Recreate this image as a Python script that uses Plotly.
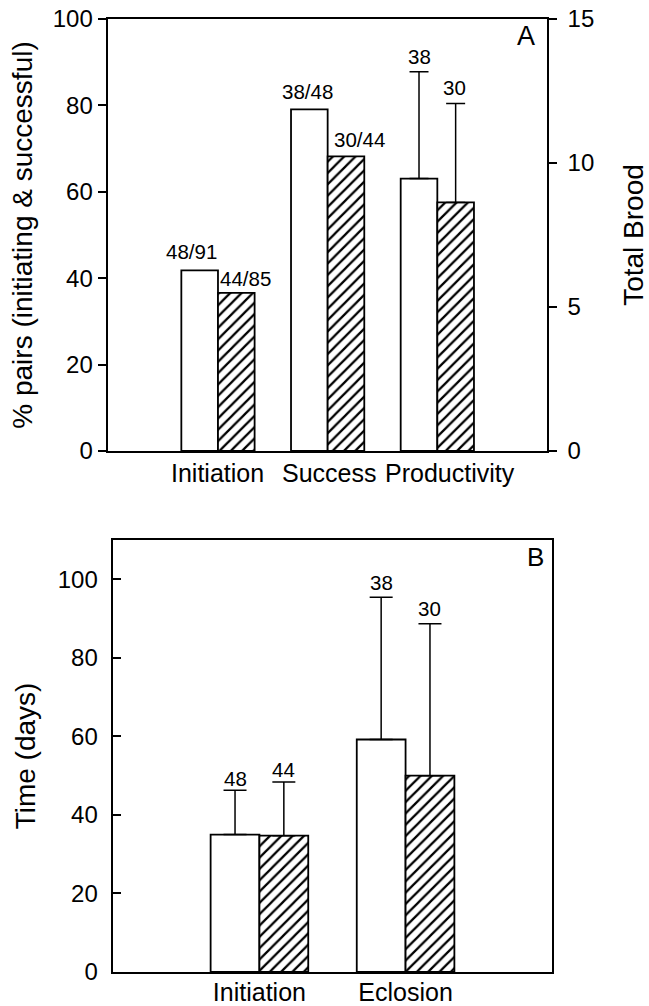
import plotly.graph_objects as go

# ---------------- data ----------------
cats_A = ["Initiation", "Success", "Productivity"]
cat_shift_A = [0, 1, 13]         # px nudge of category labels (as in the original)
pct_open = [41.8, 79.1]          # % pairs, open bars (Initiation, Success)
pct_hatch = [36.6, 68.2]         # % pairs, hatched bars
brood_open = [9.46]              # Total brood, open bar (Productivity)
brood_hatch = [8.63]             # Total brood, hatched bar
brood_open_err = [3.71]          # upper error
brood_hatch_err = [3.44]
labels_A_open = ["48/91", "38/48", "38"]
labels_A_hatch = ["44/85", "30/44", "30"]

cats_B = ["Initiation", "Eclosion"]
time_open = [35.0, 59.2]
time_hatch = [34.7, 50.0]
time_open_err = [11.3, 36.2]
time_hatch_err = [13.7, 38.7]
labels_B_open = ["48", "38"]
labels_B_hatch = ["44", "30"]

FONT = "Liberation Sans"
W = 0.334
LW = 1.8
ELW = 1.5

hatch = dict(shape="/", fgcolor="black", bgcolor="white", size=8, solidity=0.28)

fig = go.Figure()

# panel A – percent bars
fig.add_trace(go.Bar(x=cats_A[:2], y=pct_open, offset=-W, width=W,
                     marker=dict(color="white", line=dict(color="black", width=LW)),
                     xaxis="x", yaxis="y", showlegend=False))
fig.add_trace(go.Bar(x=cats_A[:2], y=pct_hatch, offset=0, width=W,
                     marker=dict(color="white", pattern=hatch, line=dict(color="black", width=LW)),
                     xaxis="x", yaxis="y", showlegend=False))
# panel A – productivity on right axis
errA = dict(type="data", symmetric=False, color="black", thickness=ELW, width=9.5)
fig.add_trace(go.Bar(x=cats_A[2:], y=brood_open, offset=-W, width=W,
                     marker=dict(color="white", line=dict(color="black", width=LW)),
                     error_y=dict(errA, array=brood_open_err, arrayminus=[0]),
                     xaxis="x", yaxis="y2", showlegend=False))
fig.add_trace(go.Bar(x=cats_A[2:], y=brood_hatch, offset=0, width=W,
                     marker=dict(color="white", pattern=hatch, line=dict(color="black", width=LW)),
                     error_y=dict(errA, array=brood_hatch_err, arrayminus=[0]),
                     xaxis="x", yaxis="y2", showlegend=False))

# panel B
errB = dict(type="data", symmetric=False, color="black", thickness=ELW, width=11.5)
fig.add_trace(go.Bar(x=cats_B, y=time_open, offset=-W, width=W,
                     marker=dict(color="white", line=dict(color="black", width=LW)),
                     error_y=dict(errB, array=time_open_err, arrayminus=[0, 0]),
                     xaxis="x2", yaxis="y3", showlegend=False))
fig.add_trace(go.Bar(x=cats_B, y=time_hatch, offset=0, width=W,
                     marker=dict(color="white", pattern=hatch, line=dict(color="black", width=LW)),
                     error_y=dict(errB, array=time_hatch_err, arrayminus=[0, 0]),
                     xaxis="x2", yaxis="y3", showlegend=False))

ann = []
lab_font = dict(family=FONT, size=20.5, color="black")
# panel A labels
topsA_open = [pct_open[0], pct_open[1], brood_open[0] + brood_open_err[0]]
topsA_hatch = [pct_hatch[0], pct_hatch[1], brood_hatch[0] + brood_hatch_err[0]]
shiftsA_open = [(-8, 5), (-1.5, 4), (0, 2)]
shiftsA_hatch = [(9, 1), (14, 3), (-1, 2)]
for i in range(3):
    yr = "y" if i < 2 else "y2"
    ann.append(dict(x=i - W / 2, y=topsA_open[i], xref="x", yref=yr, text=labels_A_open[i],
                    showarrow=False, yanchor="bottom", xanchor="center",
                    xshift=shiftsA_open[i][0], yshift=shiftsA_open[i][1], font=lab_font))
    ann.append(dict(x=i + W / 2, y=topsA_hatch[i], xref="x", yref=yr, text=labels_A_hatch[i],
                    showarrow=False, yanchor="bottom", xanchor="center",
                    xshift=shiftsA_hatch[i][0], yshift=shiftsA_hatch[i][1], font=lab_font))
# panel A category labels
for i, c in enumerate(cats_A):
    ann.append(dict(x=c, y=0, xref="x", yref="y domain", text=c, showarrow=False,
                    xanchor="center", yanchor="top", xshift=cat_shift_A[i], yshift=-6,
                    font=dict(family=FONT, size=25, color="black")))
# panel B labels
shiftsB_open = [-2, 1.5]
shiftsB_hatch = [-1, 1.5]
for i in range(2):
    ann.append(dict(x=i - W / 2, y=time_open[i] + time_open_err[i], xref="x2", yref="y3",
                    text=labels_B_open[i], showarrow=False, yanchor="bottom",
                    yshift=shiftsB_open[i], font=lab_font))
    ann.append(dict(x=i + W / 2, y=time_hatch[i] + time_hatch_err[i], xref="x2", yref="y3",
                    text=labels_B_hatch[i], showarrow=False, yanchor="bottom",
                    yshift=shiftsB_hatch[i], font=lab_font))
# panel letters
ann.append(dict(x=526 / 649, y=1 - 36 / 1006, xref="paper", yref="paper", text="A",
                showarrow=False, xanchor="center", yanchor="middle",
                font=dict(family=FONT, size=27, color="black")))
ann.append(dict(x=535 / 649, y=1 - 557 / 1006, xref="paper", yref="paper", text="B",
                showarrow=False, xanchor="center", yanchor="middle",
                font=dict(family=FONT, size=26, color="black")))

tickf = dict(family=FONT, size=24, color="black")
titlef = dict(family=FONT, size=28, color="black")
axline = dict(showline=True, linecolor="black", linewidth=1.5, showgrid=False, zeroline=False)

fig.update_layout(
    template="none",
    width=649, height=1006,
    margin=dict(l=0, r=0, t=0, b=0),
    paper_bgcolor="white", plot_bgcolor="white",
    font=dict(family=FONT, color="black"),
    annotations=ann,
    xaxis=dict(axline, domain=[108.3 / 649, 547 / 649], anchor="y", range=[-1, 3],
               type="category", categoryorder="array", categoryarray=cats_A,
               showticklabels=False, mirror=True, ticks=""),
    yaxis=dict(axline, domain=[1 - 451 / 1006, 1 - 19 / 1006], anchor="x", range=[0, 100],
               tickvals=[0, 20, 40, 60, 80, 100], ticks="outside", ticklen=9, tickwidth=1.5,
               tickcolor="black", tickfont=tickf, ticklabelstandoff=0,
               title=dict(text="% pairs (initiating & successful)", font=titlef, standoff=12)),
    yaxis2=dict(axline, overlaying="y", side="right", anchor="x", range=[0, 15],
                tickvals=[0, 5, 10, 15], ticks="outside", ticklen=8, tickwidth=1.5,
                tickcolor="black", tickfont=tickf, ticklabelstandoff=6,
                title=dict(text="Total Brood", font=titlef, standoff=30)),
    xaxis2=dict(axline, domain=[113.3 / 649, 551.7 / 649], anchor="y3", range=[-1, 2],
                type="category", categoryorder="array", categoryarray=cats_B,
                tickangle=0,
                mirror=True, ticks="", tickfont=dict(family=FONT, size=25, color="black"),
                ticklabelstandoff=-3),
    yaxis3=dict(axline, domain=[1 - 972 / 1006, 1 - 540 / 1006], anchor="x2", range=[0, 110],
                tickvals=[0, 20, 40, 60, 80, 100], ticks="inside", ticklen=8, tickwidth=1.5,
                tickcolor="black", tickfont=tickf, ticklabelstandoff=9, mirror=True,
                title=dict(text="Time (days)", font=titlef, standoff=14)),
)

fig.write_html("out.html", config={"displayModeBar": False},
               post_script="document.body.style.margin='0px';")
